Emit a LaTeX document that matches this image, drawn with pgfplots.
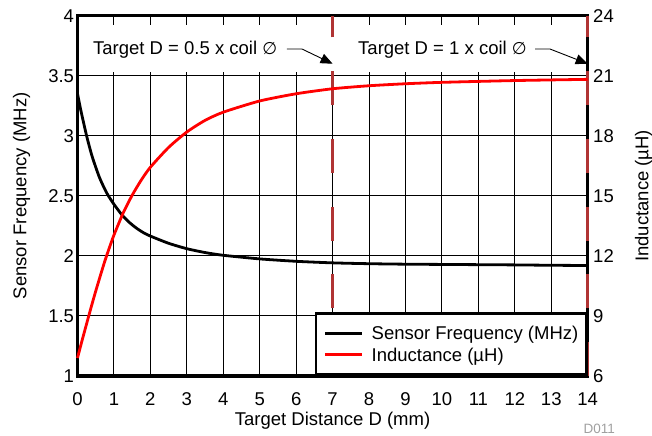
\documentclass[border=0pt]{standalone}
\usepackage{fontspec}
\setmainfont{Liberation Sans}
\newfontfamily\dejavu[Scale=0.92]{DejaVu Sans}
\usepackage{pgfplots}
\pgfplotsset{compat=1.18}
\usetikzlibrary{arrows.meta}
\definecolor{dashred}{RGB}{176,52,52}
\definecolor{idgray}{RGB}{160,160,160}
\newcommand{\bigf}{\fontsize{18.5bp}{22bp}\selectfont}

\pgfplotstableread{
x f
0 3.35
0.05 3.275
0.1 3.2
0.25 3.0
0.4 2.83
0.6 2.655
0.8 2.525
1 2.43
1.21 2.345
1.4 2.285
1.6 2.235
1.8 2.195
2 2.165
2.5 2.105
3 2.06
3.5 2.028
4 2.005
5 1.975
6 1.955
7 1.942
8 1.935
9 1.931
10 1.929
11 1.927
12 1.925
13 1.922
14 1.92
}\freqtable

\pgfplotstableread{
x L
0 6.9
0.125 7.77
0.25 8.61
0.375 9.44
0.5 10.24
0.625 11.0
0.75 11.74
0.875 12.41
1 13.04
1.25 14.13
1.5 15.03
1.75 15.79
2 16.43
2.5 17.42
3 18.19
3.5 18.77
4 19.18
5 19.74
6 20.1
7 20.35
8 20.5
9 20.6
10 20.67
12 20.76
14 20.82
}\indtable

\begin{document}
\begin{tikzpicture}[font=\bigf]
\useasboundingbox (0,0) rectangle (652bp,436bp);
\begin{axis}[
  at={(77.5bp,60bp)}, anchor=south west,
  scale only axis, width=510.2bp, height=360.3bp,
  xmin=0, xmax=14, ymin=1, ymax=4,
  xtick={0,1,2,3,4,5,6,7,8,9,10,11,12,13,14},
  ytick={1,1.5,2,2.5,3,3.5,4},
  grid=major,
  major grid style={black, line width=0.9bp},
  tick style={draw=none},
  axis line style={line width=3bp},
  /pgf/number format/assume math mode=true,
  ticklabel style={font=\bigf},
  xticklabel style={anchor=base, yshift=-29bp},
  label style={font=\bigf},
  xlabel={Target Distance D (mm)},
  xlabel style={at={(axis description cs:0.5,0)}, anchor=base, yshift=-49bp},
  ylabel={Sensor Frequency (MHz)},
  ylabel style={at={(axis description cs:-0.1,0.5)}, anchor=base, rotate=0},
]
\fill[white] (axis cs:0,3.531) rectangle (axis cs:14,3.9225);
\addplot[black, line width=2.8bp, smooth, tension=0.4] table[x=x,y=f] {\freqtable};
\end{axis}
\begin{axis}[
  at={(77.5bp,60bp)}, anchor=south west,
  scale only axis, width=510.2bp, height=360.3bp,
  xmin=0, xmax=14, ymin=6, ymax=24,
  xtick=\empty,
  ytick={6,9,12,15,18,21,24},
  yticklabel pos=right,
  tick style={draw=none},
  axis line style={line width=3bp},
  clip=false,
  /pgf/number format/assume math mode=true,
  ticklabel style={font=\bigf},
  yticklabel style={xshift=2bp},
  label style={font=\bigf},
  ylabel={Inductance (\textmu H)},
  ylabel style={at={(axis description cs:1.1188,0.5)}, anchor=base, rotate=0},
  legend style={at={(rel axis cs:1,0)}, anchor=south east, draw=black,
    line width=2.7bp, fill=white, inner xsep=8bp, inner ysep=11.5bp,
    row sep=4.3bp, column sep=8bp, font=\bigf,
    nodes={inner sep=0pt, text height=15.1bp, text depth=1.9bp}},
  legend cell align=left,
  legend image code/.code={\draw[#1] (0bp,0bp) -- (37bp,0bp);},
]
\draw[dashred, line width=3bp, dash pattern=on 34bp off 33.7bp] (axis cs:7,6) -- (axis cs:7,24);
\draw[dashred, line width=3bp, dash pattern=on 34bp off 33.7bp] (axis cs:14,6) -- (axis cs:14,24);
\node[anchor=base west, inner sep=0pt] at (axis cs:0.425,22.07) {Target D = 0.5 x coil {\dejavu ∅}};
\node[anchor=base west, inner sep=0pt] at (axis cs:7.697,22.07) {Target D = 1 x coil {\dejavu ∅}};
\draw[line width=0.9bp, -{Triangle[length=12bp,width=10bp]}] (axis cs:5.748,22.335) -- (axis cs:6.161,22.335) -- (axis cs:7,21.6);
\draw[line width=0.9bp, -{Triangle[length=12bp,width=10bp]}] (axis cs:12.554,22.335) -- (axis cs:12.966,22.335) -- (axis cs:14,21.6);
\addlegendimage{black, line width=2.8bp}
\addlegendentry{Sensor Frequency (MHz)}
\addplot[red, line width=2.8bp, smooth, tension=0.4] table[x=x,y=L] {\indtable};
\addlegendentry{Inductance (\textmu H)}
\end{axis}
\node[anchor=base east, inner sep=0pt, text=idgray, font=\fontsize{13.5bp}{16bp}\selectfont] at (615bp,2.7bp) {D011};
\end{tikzpicture}
\end{document}
